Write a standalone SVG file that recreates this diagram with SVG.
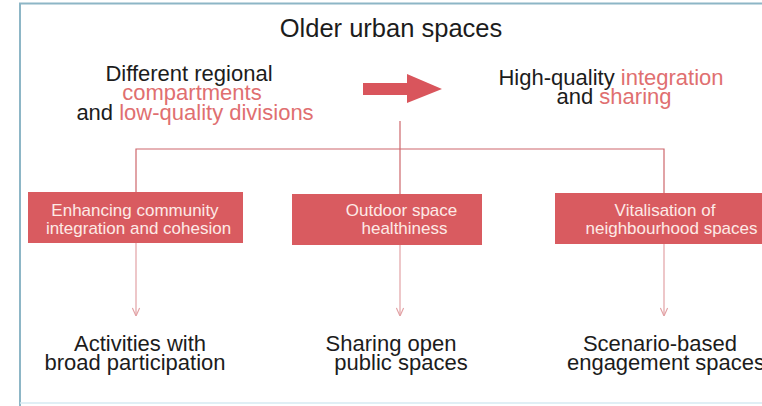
<svg xmlns="http://www.w3.org/2000/svg" width="762" height="406" viewBox="0 0 762 406">
<defs>
<style>
.t{font-family:"Liberation Sans",Arial,sans-serif;fill:#1c1c1c;text-anchor:middle;font-size:22px}
.ttl{font-size:25.5px}
.hl{fill:#e06f70}
.bt{font-family:"Liberation Sans",Arial,sans-serif;fill:#fdeae6;text-anchor:middle;font-size:17px}
.box{fill:#d95b60}
.ln{fill:none;stroke:#cd676c;stroke-width:1.2}
.ln2{fill:none;stroke:#e2a2a5;stroke-width:1.2}
</style>
<marker id="ah" viewBox="0 0 10 10" refX="10" refY="5" markerWidth="9" markerHeight="9" markerUnits="userSpaceOnUse" orient="auto">
<path d="M1,1 L10,5 L1,9" fill="none" stroke="#e2a2a5" stroke-width="1.3"/>
</marker>
</defs>
<rect width="762" height="406" fill="#ffffff"/>
<g id="frame">
<path d="M20,406 V3.5 H762" fill="none" stroke="#8db6c6" stroke-width="2"/>
<line x1="20" y1="403" x2="762" y2="403" stroke="#d6eaf2" stroke-width="1.5"/>
</g>
<g id="title">
<text class="t ttl" x="391" y="37">Older urban spaces</text>
</g>
<g id="before">
<text class="t" x="189" y="80.5">Different regional</text>
<text class="t hl" x="192" y="100">compartments</text>
<text class="t" x="195" y="119.5">and <tspan class="hl">low-quality divisions</tspan></text>
</g>
<g id="arrow">
<polygon points="363,83 407,83 407,74 442,89 407,103 407,95 363,95" fill="#d9555c"/>
</g>
<g id="after">
<text class="t" x="611" y="84.5">High-quality <tspan class="hl">integration</tspan></text>
<text class="t" x="614" y="104">and <tspan class="hl">sharing</tspan></text>
</g>
<g id="connectors">
<line class="ln" x1="400" y1="121" x2="400" y2="194"/>
<polyline class="ln" points="136,192 136,149 664,149 664,193"/>
<line class="ln2" x1="136" y1="243" x2="136" y2="316" marker-end="url(#ah)"/>
<line class="ln2" x1="400" y1="245" x2="400" y2="316" marker-end="url(#ah)"/>
<line class="ln2" x1="664" y1="244" x2="664" y2="316" marker-end="url(#ah)"/>
</g>
<g id="box1">
<rect class="box" x="28" y="192" width="215" height="51"/>
<text class="bt" x="135" y="216">Enhancing community</text>
<text class="bt" x="138.5" y="234">integration and cohesion</text>
</g>
<g id="box2">
<rect class="box" x="292" y="194" width="190" height="51"/>
<text class="bt" x="401.5" y="216">Outdoor space</text>
<text class="bt" x="404.5" y="233.5">healthiness</text>
</g>
<g id="box3">
<rect class="box" x="555" y="193" width="207" height="51"/>
<text class="bt" x="665" y="216">Vitalisation of</text>
<text class="bt" x="671.5" y="234">neighbourhood spaces</text>
</g>
<g id="out1">
<text class="t" x="140" y="350.5">Activities with</text>
<text class="t" x="135" y="370">broad participation</text>
</g>
<g id="out2">
<text class="t" x="391" y="350.5">Sharing open</text>
<text class="t" x="401" y="370">public spaces</text>
</g>
<g id="out3">
<text class="t" x="660" y="350.5">Scenario-based</text>
<text class="t" x="666" y="370">engagement spaces</text>
</g>
</svg>
